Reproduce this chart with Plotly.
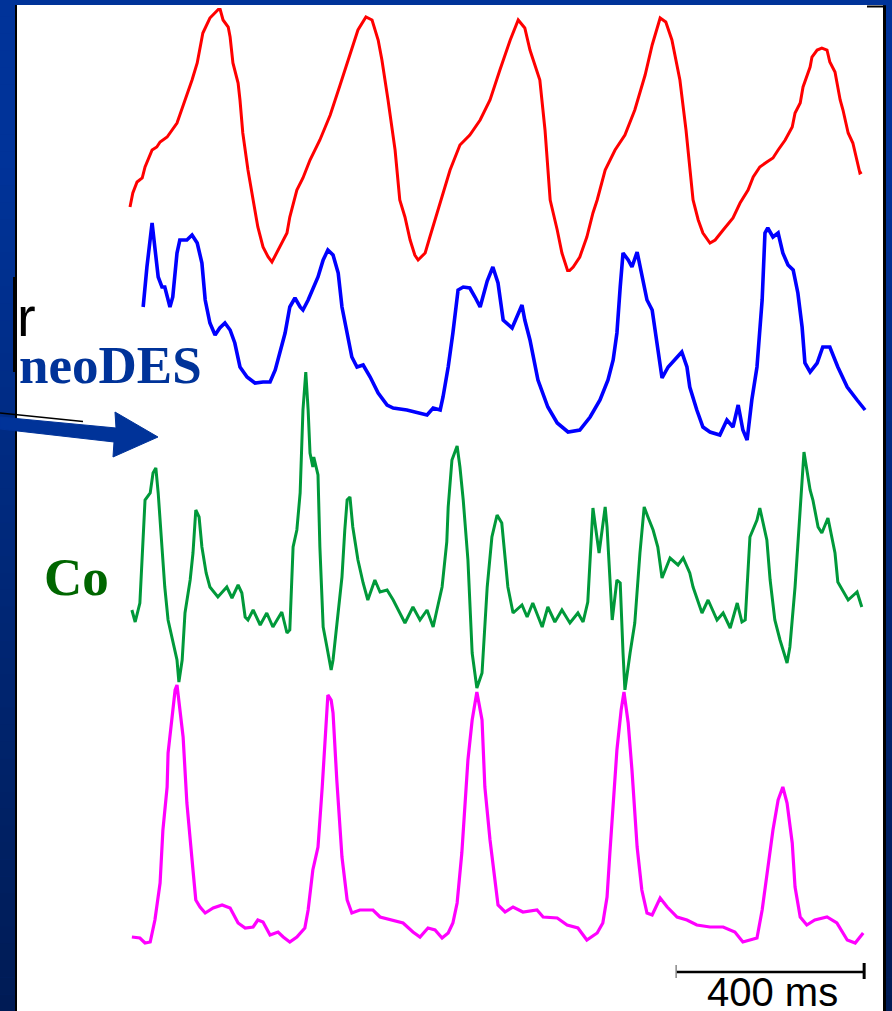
import plotly.graph_objects as go

# ---------------- data ----------------
# time in ms, amplitude in arbitrary units (0 = lowest point of each trace band)
red_t = [0, 6, 15, 26, 32, 47, 57, 64, 79, 89,
         100, 106, 117, 123, 132, 143, 149, 155, 170, 181,
         191, 198, 209, 213, 219, 230, 234, 240, 251, 262,
         272, 283, 294, 302, 319, 334, 340, 355, 368, 383,
         404, 426, 447, 468, 485, 502, 515, 528, 536, 549,
         564, 574, 585, 596, 606, 613, 628, 638, 649, 660,
         681, 702, 723, 745, 766, 787, 809, 826, 840, 851,
         872, 883, 894, 909, 919, 932, 943, 957, 972, 985,
         994, 1011, 1032, 1053, 1074, 1096, 1111, 1128, 1140, 1153,
         1170, 1183, 1198, 1209, 1219, 1234, 1245, 1262, 1283, 1298,
         1315, 1326, 1340, 1355, 1368, 1379, 1394, 1409, 1415, 1426,
         1432, 1447, 1451, 1462, 1472, 1483, 1489, 1500, 1511, 1517,
         1528, 1538, 1547, 1553, 1557]
red_v = [65, 79, 90, 94, 105, 122, 125, 130, 135, 142,
         149, 157, 172, 179, 192, 209, 225, 239, 254, 259,
         264, 252, 245, 235, 209, 189, 172, 139, 102, 72,
         45, 25, 15, 10, 25, 39, 55, 82, 94, 112,
         132, 157, 187, 217, 242, 255, 252, 232, 212, 172,
         122, 72, 55, 32, 17, 12, 19, 35, 52, 69,
         102, 127, 137, 152, 172, 202, 232, 252, 244, 222,
         192, 142, 72, 42, 19, 0, 5, 15, 35, 59,
         72, 102, 122, 137, 162, 197, 227, 254, 250, 232,
         192, 142, 72, 52, 39, 29, 32, 42, 54, 69,
         82, 95, 105, 110, 114, 122, 132, 145, 159, 169,
         185, 205, 215, 222, 224, 222, 210, 200, 172, 162,
         139, 129, 110, 99, 100]

blue_t = [28, 36, 47, 53, 60, 68, 74, 85, 91, 100,
          106, 121, 132, 143, 153, 160, 170, 181, 191, 202,
          213, 223, 234, 249, 266, 283, 298, 309, 319, 330,
          340, 351, 362, 368, 379, 389, 400, 411, 421, 432,
          443, 451, 462, 472, 483, 496, 511, 528, 547, 560,
          589, 617, 632, 645, 660, 666, 677, 687, 698, 709,
          723, 734, 745, 760, 772, 783, 794, 813, 834, 840,
          851, 868, 889, 909, 932, 957, 979, 1000, 1017, 1028,
          1036, 1043, 1049, 1060, 1068, 1079, 1089, 1100, 1111, 1121,
          1132, 1145, 1164, 1174, 1185, 1191, 1206, 1219, 1234, 1255,
          1270, 1283, 1294, 1304, 1313, 1323, 1334, 1345, 1351, 1357,
          1368, 1379, 1389, 1400, 1411, 1421, 1430, 1436, 1447, 1462,
          1474, 1489, 1506, 1526, 1547, 1564]
blue_v = [135, 175, 219, 195, 165, 155, 155, 135, 145, 189,
          202, 202, 207, 199, 179, 142, 119, 107, 114, 119,
          112, 99, 75, 65, 59, 60, 60, 72, 89, 109,
          135, 144, 135, 132, 142, 152, 165, 182, 192, 187,
          169, 135, 109, 85, 75, 77, 65, 49, 37, 34,
          32, 29, 27, 34, 32, 45, 75, 109, 152, 155,
          154, 145, 135, 161, 175, 159, 122, 114, 137, 122,
          102, 62, 35, 19, 10, 12, 25, 42, 62, 82,
          109, 155, 189, 182, 175, 190, 165, 142, 132, 102,
          64, 75, 85, 90, 75, 55, 32, 15, 10, 7,
          22, 15, 37, 12, 2, 42, 75, 142, 209, 214,
          205, 209, 189, 177, 172, 149, 115, 79, 70, 79,
          95, 95, 75, 55, 42, 32]

green_t = [4, 11, 21, 26, 32, 43, 49, 55, 60, 68,
           74, 81, 91, 100, 104, 111, 117, 128, 134, 140,
           147, 153, 162, 170, 187, 206, 217, 230, 238, 245,
           251, 262, 277, 291, 304, 323, 334, 340, 347, 355,
           362, 368, 374, 379, 383, 389, 391, 400, 404, 411,
           419, 428, 432, 440, 451, 457, 462, 468, 474, 485,
           496, 506, 521, 532, 547, 560, 568, 585, 602, 617,
           632, 645, 653, 664, 674, 677, 685, 696, 702, 709,
           719, 728, 738, 749, 760, 770, 781, 791, 804, 815,
           834, 845, 857, 877, 889, 904, 919, 936, 953, 964,
           974, 985, 998, 1011, 1015, 1026, 1036, 1043, 1049, 1053,
           1064, 1074, 1085, 1094, 1102, 1113, 1123, 1132, 1149, 1166,
           1177, 1191, 1198, 1217, 1230, 1249, 1262, 1277, 1292, 1302,
           1309, 1319, 1334, 1340, 1355, 1362, 1372, 1383, 1398, 1404,
           1415, 1426, 1434, 1447, 1453, 1464, 1472, 1485, 1500, 1506,
           1528, 1547, 1557]
green_v = [80, 68, 87, 130, 190, 197, 217, 222, 197, 143,
           103, 70, 50, 30, 8, 30, 77, 110, 137, 180,
           173, 143, 117, 103, 93, 103, 92, 105, 97, 73,
           70, 80, 65, 77, 63, 78, 57, 60, 143, 160,
           197, 280, 318, 280, 237, 223, 233, 215, 143, 63,
           43, 20, 30, 63, 113, 160, 190, 193, 163, 130,
           107, 90, 110, 98, 100, 90, 83, 67, 83, 70,
           80, 63, 80, 103, 148, 183, 230, 244, 223, 190,
           130, 37, 2, 17, 103, 153, 175, 167, 103, 77,
           85, 73, 87, 63, 83, 68, 80, 67, 77, 68,
           88, 182, 137, 183, 163, 70, 110, 107, 37, 0,
           37, 67, 137, 183, 173, 160, 143, 112, 132, 125,
           132, 117, 103, 77, 90, 70, 77, 62, 87, 68,
           70, 153, 170, 182, 150, 110, 70, 50, 27, 43,
           103, 180, 238, 200, 190, 163, 157, 172, 137, 108,
           90, 98, 83]

magenta_t = [4, 21, 32, 43, 53, 64, 70, 79, 81, 89,
             96, 100, 106, 113, 121, 128, 134, 140, 149, 160,
             177, 196, 213, 230, 245, 262, 272, 283, 298, 315,
             326, 340, 355, 372, 379, 389, 400, 409, 415, 421,
             428, 432, 440, 451, 462, 472, 489, 517, 532, 560,
             581, 602, 617, 634, 649, 664, 677, 687, 696, 706,
             713, 719, 728, 738, 749, 755, 766, 777, 783, 798,
             815, 836, 866, 879, 909, 930, 953, 972, 994, 1006,
             1015, 1021, 1028, 1036, 1045, 1051, 1060, 1068, 1079, 1089,
             1100, 1111, 1128, 1143, 1164, 1185, 1206, 1234, 1262, 1287,
             1304, 1334, 1345, 1355, 1368, 1379, 1389, 1398, 1409, 1415,
             1426, 1440, 1457, 1483, 1504, 1526, 1543, 1560]
magenta_v = [8, 7, 2, 3, 25, 62, 115, 158, 192, 225,
             255, 260, 235, 208, 142, 102, 75, 45, 38, 32,
             37, 40, 37, 22, 17, 18, 25, 23, 10, 13,
             8, 3, 8, 17, 35, 75, 98, 158, 208, 250,
             245, 232, 165, 88, 45, 32, 35, 35, 28, 25,
             22, 13, 8, 17, 15, 7, 12, 22, 42, 92,
             142, 185, 225, 253, 225, 158, 105, 60, 40, 33,
             38, 33, 35, 28, 27, 20, 17, 5, 12, 22,
             48, 92, 142, 195, 235, 253, 222, 175, 98, 55,
             32, 30, 47, 38, 28, 25, 20, 18, 18, 13,
             3, 7, 35, 68, 115, 145, 158, 142, 102, 58,
             28, 20, 25, 28, 22, 5, 2, 12]

SCALE_START_MS = 1162
SCALE_LEN_MS = 400
SCALE_LABEL = "400 ms"

assert len(red_t) == len(red_v)
assert len(blue_t) == len(blue_v)
assert len(green_t) == len(green_v)
assert len(magenta_t) == len(magenta_v)

# ---------------- layout helpers ----------------
W, H = 892, 1011
MS_PER_PX = 400.0 / 188.0
X0_PX = 130  # pixel position of t = 0


def fx(x):
    return x / W


def fy(y):
    return 1 - y / H


# pixel bands (top, bottom, range) for each trace axis
bands = {
    "y": (8, 272, 264),
    "y2": (222, 442, 220),
    "y3": (370, 690, 320),
    "y4": (683, 945, 262),
}

fig = go.Figure()
series = [
    (red_t, red_v, "#ff0000", 3.0, "y"),
    (blue_t, blue_v, "#0000ff", 3.6, "y2"),
    (green_t, green_v, "#00993a", 3.0, "y3"),
    (magenta_t, magenta_v, "#ff00ff", 3.2, "y4"),
]
for t, v, c, w, ax in series:
    fig.add_trace(go.Scatter(x=t, y=v, mode="lines", yaxis=ax,
                             line=dict(color=c, width=w),
                             hoverinfo="skip", showlegend=False))

ax_common = dict(visible=False, showgrid=False, zeroline=False, fixedrange=True)
layout_axes = {}
for key, (top, bot, rng) in bands.items():
    name = "yaxis" if key == "y" else "yaxis" + key[1:]
    layout_axes[name] = dict(domain=[fy(bot), fy(top)], range=[0, rng],
                             anchor="x", **ax_common)

shapes = []
# gradient background
top_rgb = (0, 51, 153)
bot_rgb = (0, 27, 84)
N = 60
for i in range(N):
    y0 = i * H / N
    y1 = (i + 1) * H / N
    f = max(0.0, (y0 - 150) / (H - 150))
    col = tuple(int(round(a + (b - a) * f)) for a, b in zip(top_rgb, bot_rgb))
    shapes.append(dict(type="rect", xref="paper", yref="paper", layer="below",
                       x0=0, x1=1, y0=fy(y1 + 0.5), y1=fy(y0),
                       fillcolor="rgb(%d,%d,%d)" % col, line=dict(width=0)))
# white panel and its dark edges
shapes.append(dict(type="rect", xref="paper", yref="paper", layer="below",
                   x0=fx(17), x1=fx(883), y0=0, y1=fy(5),
                   fillcolor="#ffffff", line=dict(width=0)))
shapes.append(dict(type="rect", xref="paper", yref="paper", layer="below",
                   x0=fx(15), x1=fx(17), y0=0, y1=fy(5),
                   fillcolor="#000000", line=dict(width=0)))
shapes.append(dict(type="rect", xref="paper", yref="paper", layer="below",
                   x0=fx(883), x1=fx(886), y0=0, y1=fy(5.5),
                   fillcolor="#000000", line=dict(width=0)))
shapes.append(dict(type="rect", xref="paper", yref="paper", layer="below",
                   x0=fx(867), x1=fx(886), y0=fy(7.5), y1=fy(5.5),
                   fillcolor="#000000", line=dict(width=0)))
shapes.append(dict(type="rect", xref="paper", yref="paper", layer="below",
                   x0=fx(13), x1=fx(16.5), y0=fy(372), y1=fy(277),
                   fillcolor="#000000", line=dict(width=0)))
# thin black line near arrow
shapes.append(dict(type="line", xref="paper", yref="paper",
                   x0=fx(0), y0=fy(413), x1=fx(83), y1=fy(421.5),
                   line=dict(color="#000000", width=1.6)))
# blue arrow
pts = [(0, 417), (116, 428), (115, 412), (158, 437), (113, 457), (114, 442), (0, 429)]
path = "M " + " L ".join("%.5f,%.5f" % (fx(x), fy(y)) for x, y in pts) + " Z"
shapes.append(dict(type="path", xref="paper", yref="paper", path=path,
                   fillcolor="#003399", line=dict(color="#003399", width=1)))
# scale bar (400 ms in data units)
y_bar = fy(972)
shapes.append(dict(type="line", xref="x", yref="paper",
                   x0=SCALE_START_MS, x1=SCALE_START_MS + SCALE_LEN_MS,
                   y0=y_bar, y1=y_bar, line=dict(color="#000000", width=2.5)))
shapes.append(dict(type="line", xref="x", yref="paper",
                   x0=SCALE_START_MS, x1=SCALE_START_MS,
                   y0=fy(978), y1=fy(965), line=dict(color="#888888", width=1.5)))
shapes.append(dict(type="line", xref="x", yref="paper",
                   x0=SCALE_START_MS + SCALE_LEN_MS, x1=SCALE_START_MS + SCALE_LEN_MS,
                   y0=fy(979), y1=fy(963), line=dict(color="#000000", width=3)))

annotations = [
    dict(text="<b>neoDES</b>", xref="paper", yref="paper", x=fx(17), y=fy(365),
         xanchor="left", yanchor="middle", showarrow=False,
         font=dict(family="Liberation Serif, Times New Roman, serif", size=53, color="#003399")),
    dict(text="<b>Co</b>", xref="paper", yref="paper", x=fx(42), y=fy(577),
         xanchor="left", yanchor="middle", showarrow=False,
         font=dict(family="Liberation Serif, Times New Roman, serif", size=53, color="#006600")),
    dict(text="r", xref="paper", yref="paper", x=fx(15), y=fy(316),
         xanchor="left", yanchor="middle", showarrow=False,
         font=dict(family="Liberation Sans Narrow, Arial Narrow, sans-serif",
                   size=56, color="#000000")),
    dict(text=SCALE_LABEL, xref="x", yref="paper", x=SCALE_START_MS + SCALE_LEN_MS / 2 + 6,
         y=fy(992), xanchor="center", yanchor="middle", showarrow=False,
         font=dict(family="Liberation Sans, Arial, sans-serif", size=40, color="#000000")),
]

fig.update_layout(
    width=W, height=H, autosize=False,
    margin=dict(l=0, r=0, t=0, b=0, pad=0),
    paper_bgcolor="#003399", plot_bgcolor="rgba(0,0,0,0)",
    xaxis=dict(domain=[0, 1], range=[-X0_PX * MS_PER_PX, (W - X0_PX) * MS_PER_PX],
               anchor="y", **ax_common),
    shapes=shapes, annotations=annotations, showlegend=False,
    **layout_axes,
)

fig.write_html("out.html", config={"displayModeBar": False},
               post_script="document.body.style.margin='0px';")
